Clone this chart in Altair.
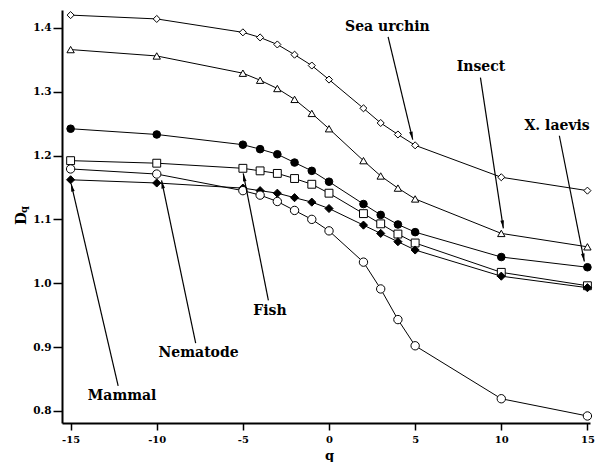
import math
import altair as alt
import pandas as pd

# ---- data ----
q_values = [-15, -10, -5, -4, -3, -2, -1, 0, 2, 3, 4, 5, 10, 15]

sea_urchin = [1.420, 1.414, 1.393, 1.385, 1.374, 1.358, 1.341, 1.319, 1.274, 1.251, 1.233, 1.216, 1.166, 1.145]
insect     = [1.366, 1.356, 1.329, 1.318, 1.305, 1.288, 1.266, 1.242, 1.192, 1.168, 1.149, 1.132, 1.078, 1.057]
x_laevis   = [1.242, 1.233, 1.217, 1.210, 1.202, 1.189, 1.176, 1.159, 1.124, 1.107, 1.092, 1.080, 1.041, 1.025]
fish       = [1.192, 1.188, 1.180, 1.176, 1.172, 1.164, 1.155, 1.141, 1.109, 1.093, 1.077, 1.063, 1.017, 0.996]
mammal     = [1.162, 1.157, 1.149, 1.145, 1.141, 1.134, 1.127, 1.117, 1.091, 1.078, 1.065, 1.052, 1.011, 0.993]
nematode   = [1.179, 1.171, 1.145, 1.138, 1.128, 1.114, 1.100, 1.082, 1.033, 0.991, 0.943, 0.902, 0.819, 0.792]

series_names = ["Sea urchin", "Insect", "X. laevis", "Fish", "Mammal", "Nematode"]
series_values = [sea_urchin, insect, x_laevis, fish, mammal, nematode]

# annotation labels (text, label position, arrow start, arrow tip) in data units
label_text = ["Sea urchin", "Insect", "X. laevis", "Fish", "Nematode", "Mammal"]
label_q = [3.39, 8.82, 13.24, -3.43, -7.57, -12.01]
label_D = [1.402, 1.338, 1.247, 0.957, 0.890, 0.823]
arrow_q_from = [3.43, 8.79, 13.37, -3.52, -7.74, -12.24]
arrow_D_from = [1.386, 1.322, 1.231, 0.973, 0.906, 0.839]
arrow_q_to = [4.86, 10.12, 14.82, -4.98, -9.72, -14.97]
arrow_D_to = [1.225, 1.086, 1.034, 1.172, 1.161, 1.156]

x_ticks = [-15, -10, -5, 0, 5, 10, 15]
y_ticks = [0.8, 0.9, 1.0, 1.1, 1.2, 1.3, 1.4]

# ---- layout / style ----
X_DOMAIN = [-15.5, 15.15]
Y_DOMAIN = [0.781, 1.428]
W, H = 528, 413
FONT = "DejaVu Serif"

rows = []
for name, vals in zip(series_names, series_values):
    for q, d in zip(q_values, vals):
        rows.append({"series": name, "q": q, "D": d})
df = pd.DataFrame(rows)

labels_df = pd.DataFrame({"text": label_text, "q": label_q, "D": label_D})

# arrowhead rotation (pixel space, clockwise from "up")
px_per_q = W / (X_DOMAIN[1] - X_DOMAIN[0])
px_per_D = H / (Y_DOMAIN[1] - Y_DOMAIN[0])
angles = []
for q0, d0, q1, d1 in zip(arrow_q_from, arrow_D_from, arrow_q_to, arrow_D_to):
    dx = (q1 - q0) * px_per_q
    dy = -(d1 - d0) * px_per_D
    angles.append(math.degrees(math.atan2(dx, -dy)) % 360)

arrows_df = pd.DataFrame({
    "q": arrow_q_from, "D": arrow_D_from,
    "q2": arrow_q_to, "D2": arrow_D_to,
})
heads_df = pd.DataFrame({"q": arrow_q_to, "D": arrow_D_to, "ang": angles})

x_scale = alt.Scale(domain=X_DOMAIN, nice=False, zero=False)
y_scale = alt.Scale(domain=Y_DOMAIN, nice=False, zero=False)

x_axis = alt.Axis(
    values=x_ticks, title="q", grid=False,
    labelExpr="datum.value < 0 ? '-' + abs(datum.value) : '' + datum.value",
    domainColor="black", domainWidth=2, tickColor="black", tickWidth=1.5, tickSize=7,
    labelFont=FONT, labelFontWeight="bold", labelFontSize=10, labelColor="black",
    labelPadding=4,
    titleFont=FONT, titleFontWeight="bold", titleFontSize=13, titleColor="black",
    titleX=267, titleY=36, titleBaseline="alphabetic",
)
y_axis = alt.Axis(
    values=y_ticks, format=".1f", title="D", grid=False,
    domainColor="black", domainWidth=2, tickColor="black", tickWidth=1.5, tickSize=9,
    labelFont=FONT, labelFontWeight="bold", labelFontSize=10.5, labelColor="black",
    labelPadding=2,
    titleFont=FONT, titleFontWeight="bold", titleFontSize=15, titleColor="black",
    titleAngle=270, titleX=-42, titleY=208, titleAlign="center", titleBaseline="middle",
)

lines = alt.Chart(df).mark_line(color="black", strokeWidth=1).encode(
    x=alt.X("q:Q", scale=x_scale, axis=x_axis),
    y=alt.Y("D:Q", scale=y_scale, axis=y_axis),
    detail="series:N",
    order="q:Q",
)

points = alt.Chart(df).mark_point(filled=True, stroke="black", strokeWidth=1, opacity=1).encode(
    x="q:Q",
    y="D:Q",
    shape=alt.Shape("series:N", legend=None, scale=alt.Scale(
        domain=series_names,
        range=["diamond", "triangle-up", "circle", "square", "diamond", "circle"])),
    fill=alt.Fill("series:N", legend=None, scale=alt.Scale(
        domain=series_names,
        range=["white", "white", "black", "white", "black", "white"])),
    size=alt.Size("series:N", legend=None, scale=alt.Scale(
        domain=series_names,
        range=[50, 70, 72, 64, 42, 80])),
)

arrow_lines = alt.Chart(arrows_df).mark_rule(color="black", strokeWidth=1.2).encode(
    x="q:Q", y="D:Q", x2="q2:Q", y2="D2:Q",
)

arrow_heads = alt.Chart(heads_df).mark_point(
    shape="M0,0L-0.45,2L0.45,2Z", filled=True, color="black", size=64, opacity=1,
).encode(
    x="q:Q", y="D:Q", angle=alt.Angle("ang:Q", scale=None),
)

labels = alt.Chart(labels_df).mark_text(
    font=FONT, fontWeight="bold", fontSize=14, color="black",
    align="center", baseline="middle",
).encode(x="q:Q", y="D:Q", text="text:N")

subscript = alt.Chart(pd.DataFrame({"t": ["q"]})).mark_text(
    font=FONT, fontWeight="bold", fontSize=10, color="black", angle=270,
    align="center", baseline="middle",
).encode(x=alt.value(-38.5), y=alt.value(199.5), text="t:N")

chart = alt.layer(lines, points, arrow_lines, arrow_heads, labels, subscript).properties(
    width=W, height=H,
    autosize=alt.AutoSizeParams(type="none"),
    padding={"left": 54, "top": 2, "right": 6, "bottom": 39},
    background="white",
).configure_view(stroke=None)

chart.save("out.html", embed_options={"renderer": "svg", "actions": False})
